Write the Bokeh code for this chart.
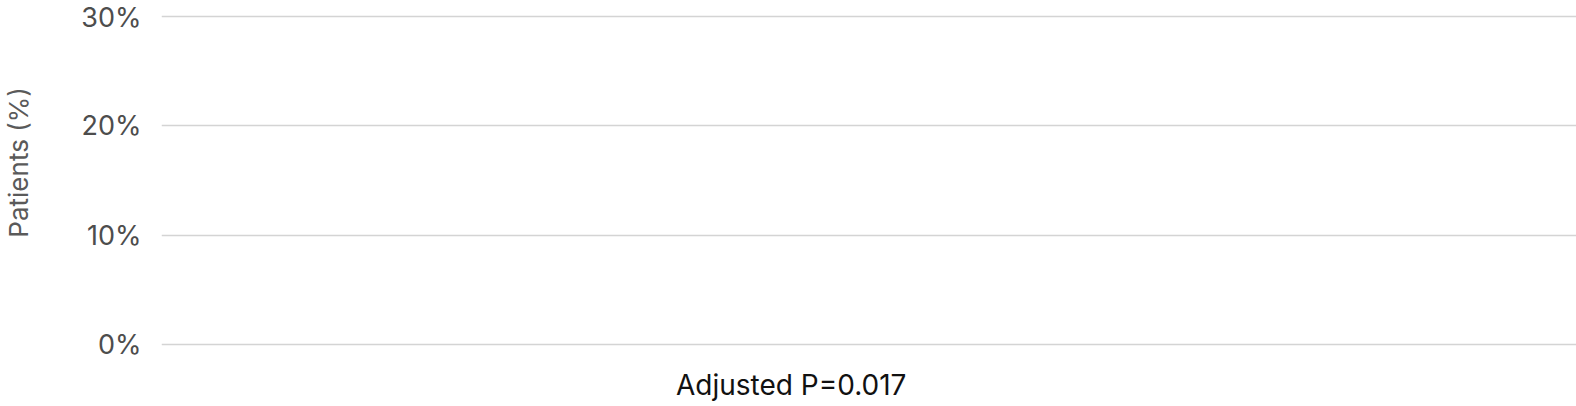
from bokeh.plotting import figure
from bokeh.models import Range1d, FixedTicker, LinearAxis
from bokeh.embed import file_html
from bokeh.resources import INLINE

# the chart has no bars drawn, just the axis and the p-value note
y_ticks = [0, 10, 20, 30]
y_tick_labels = ["0%", "10%", "20%", "30%"]
y_label = "Patients (%)"
p_note = "Adjusted P=0.017"

# where the y title and the note sit (in data units), the original chart
# has them off centre so they are placed as single ticks on extra axes
Y_LABEL_AT = 16.65
NOTE_AT = 0.445

# tiny padding so the 0 and 30 grid lines dont get clipped by the frame
p = figure(width=1576, height=404, output_backend="svg", toolbar_location=None,
           x_axis_type=None, x_range=Range1d(0, 1), y_range=Range1d(-0.3, 30.3),
           min_border_left=160, min_border_right=0, min_border_top=13, min_border_bottom=56)
p.outline_line_color = None

# main y axis, no line no ticks, just grey labels
ax = p.yaxis[0]
ax.ticker = FixedTicker(ticks=y_ticks)
ax.major_label_overrides = {t: l for t, l in zip(y_ticks, y_tick_labels)}
ax.axis_line_color = None
ax.major_tick_line_color = None
ax.minor_tick_line_color = None
ax.major_tick_out = 0
ax.major_tick_in = 0
ax.major_label_text_font = "Inter"
ax.major_label_text_font_size = "27px"
ax.major_label_text_color = "#4d4d4d"
ax.major_label_standoff = 20

p.ygrid.grid_line_color = "#d4d4d4"
p.ygrid.grid_line_width = 1.5

# y title, outside the tick labels
ytitle = LinearAxis(ticker=FixedTicker(ticks=[Y_LABEL_AT]),
                    major_label_overrides={Y_LABEL_AT: y_label},
                    major_label_orientation="vertical",
                    axis_line_color=None, major_tick_line_color=None,
                    minor_tick_line_color=None, major_tick_out=0, major_tick_in=0,
                    major_label_standoff=44,
                    major_label_text_font="Inter", major_label_text_font_size="26px",
                    major_label_text_color="#5a5a5a")
p.add_layout(ytitle, "left")

# p value note under the plot
note = LinearAxis(ticker=FixedTicker(ticks=[NOTE_AT]),
                  major_label_overrides={NOTE_AT: p_note},
                  axis_line_color=None, major_tick_line_color=None,
                  minor_tick_line_color=None, major_tick_out=0, major_tick_in=0,
                  major_label_standoff=20,
                  major_label_text_font="Inter", major_label_text_font_size="28px",
                  major_label_text_color="#111111")
p.add_layout(note, "below")

open("out.html", "w").write(file_html(p, INLINE))
